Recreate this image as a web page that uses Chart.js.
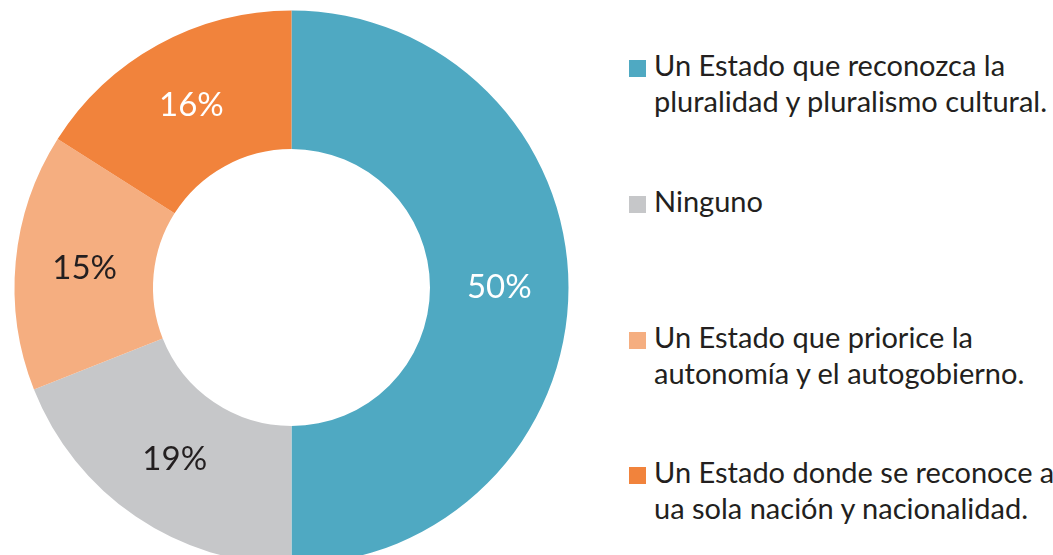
<!DOCTYPE html>
<html>
<head>
<meta charset="utf-8">
<script src="https://cdn.jsdelivr.net/npm/chart.js@4.4.1/dist/chart.umd.min.js"></script>
<style>
  html, body { margin: 0; padding: 0; background: #fff; overflow: hidden; }
  body { width: 1053px; height: 555px; position: relative; font-family: Lato, sans-serif; }
  #wrap { position: absolute; left: 0; top: 0; width: 583px; height: 575px; }
  #legend { position: absolute; left: 629px; top: 47px; }
  .item { position: absolute; left: 0; white-space: nowrap; }
  .box { position: absolute; left: 0; top: 13px; width: 17px; height: 17px; }
  .txt { position: absolute; left: 25px; top: 0; font-size: 29px; line-height: 36px; color: #231f20; }
</style>
</head>
<body>
<div id="wrap"><canvas id="chart"></canvas></div>
<div id="legend"></div>
<script>
// categories (one entry per legend line)
const categories = [
  ['Un Estado que reconozca la', 'pluralidad y pluralismo cultural.'],
  ['Ninguno'],
  ['Un Estado que priorice la', 'autonomía y el autogobierno.'],
  ['Un Estado donde se reconoce a', 'ua sola nación y nacionalidad.']
];
const shares = [50, 19, 15, 16];
const sliceColors = ['#4fa9c2', '#c6c7c9', '#f5ae80', '#f1833c'];
const labelColors = ['#ffffff', '#231f20', '#231f20', '#ffffff'];

// percentage labels in the middle of each ring piece
const sliceLabels = {
  id: 'sliceLabels',
  afterDatasetsDraw(chart) {
    const ctx = chart.ctx;
    const meta = chart.getDatasetMeta(0);
    ctx.save();
    ctx.font = '33px Lato, sans-serif';
    ctx.textAlign = 'center';
    ctx.textBaseline = 'middle';
    meta.data.forEach((arc, i) => {
      const p = arc.tooltipPosition();
      ctx.fillStyle = labelColors[i];
      ctx.fillText(shares[i] + '%', p.x, p.y);
    });
    ctx.restore();
  }
};

new Chart(document.getElementById('chart'), {
  type: 'doughnut',
  data: {
    labels: categories,
    datasets: [{
      data: shares,
      backgroundColor: sliceColors,
      borderWidth: 0
    }]
  },
  options: {
    responsive: true,
    maintainAspectRatio: false,
    animation: false,
    cutout: '50%',
    layout: {padding: {top: 10.5, bottom: 10.5}},
    plugins: {
      legend: {display: false},
      tooltip: {enabled: false}
    }
  },
  plugins: [sliceLabels]
});

// legend on the right, items evenly spaced
const legend = document.getElementById('legend');
categories.forEach((lines, i) => {
  const item = document.createElement('div');
  item.className = 'item';
  item.style.top = (i * 135.8) + 'px';
  const box = document.createElement('div');
  box.className = 'box';
  box.style.background = sliceColors[i];
  const txt = document.createElement('div');
  txt.className = 'txt';
  txt.innerHTML = lines.join('<br>');
  item.appendChild(box);
  item.appendChild(txt);
  legend.appendChild(item);
});
</script>
</body>
</html>
